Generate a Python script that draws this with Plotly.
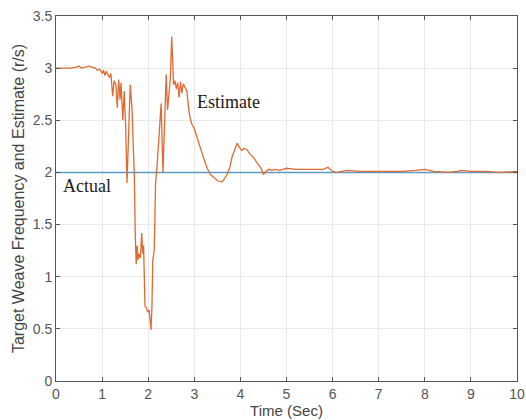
import plotly.graph_objects as go

# ---- data ----
actual_t = [0, 10]
actual_val = [2.0, 2.0]

est_t = [0.0, 0.3, 0.45, 0.5, 0.55, 0.65, 0.72, 0.78, 0.85, 0.9, 0.95, 1.0, 1.03, 1.06, 1.09,
         1.12, 1.16, 1.19, 1.23, 1.26, 1.30, 1.33, 1.36, 1.39, 1.41, 1.45, 1.48, 1.51, 1.54,
         1.57, 1.61, 1.63, 1.65, 1.68, 1.70, 1.72, 1.74, 1.76, 1.78, 1.80, 1.83, 1.86, 1.88,
         1.90, 1.93, 1.96, 1.99, 2.02, 2.04, 2.06, 2.08, 2.10, 2.13, 2.16, 2.19, 2.22, 2.25,
         2.28, 2.30, 2.32, 2.35, 2.39, 2.42, 2.45, 2.48, 2.51, 2.53, 2.55, 2.58, 2.61, 2.64,
         2.67, 2.70, 2.73, 2.76, 2.80, 2.84, 2.88, 2.91, 2.95, 2.99, 3.05, 3.13, 3.20, 3.28,
         3.35, 3.43, 3.50, 3.60, 3.66, 3.72, 3.77, 3.82, 3.88, 3.93, 3.98, 4.03, 4.08, 4.14,
         4.20, 4.29, 4.38, 4.45, 4.50, 4.55, 4.62, 4.68, 4.75, 4.85, 5.0, 5.2, 5.5, 5.8, 5.9,
         6.0, 6.1, 6.3, 6.6, 7.0, 7.5, 7.8, 8.0, 8.2, 8.5, 8.7, 8.8, 9.0, 9.3, 9.6, 10.0]
est_val = [3.00, 3.00, 3.01, 3.02, 3.00, 3.01, 3.02, 3.01, 3.00, 2.98, 2.99, 2.95, 2.98, 2.93, 2.97,
           2.94, 2.91, 2.95, 2.73, 2.88, 2.84, 2.62, 2.89, 2.70, 2.86, 2.50, 2.78, 2.45, 1.90,
           2.30, 2.84, 2.72, 2.60, 2.20, 1.96, 1.40, 1.12, 1.30, 1.16, 1.22, 1.18, 1.42, 1.22,
           1.30, 0.72, 0.70, 0.66, 0.68, 0.60, 0.49, 0.70, 1.16, 1.25, 1.90, 2.05, 2.30, 2.45,
           2.66, 2.20, 2.00, 2.40, 2.94, 2.60, 2.75, 2.90, 3.30, 3.10, 2.84, 2.88, 2.80, 2.86,
           2.72, 2.87, 2.76, 2.85, 2.82, 2.78, 2.60, 2.52, 2.46, 2.43, 2.35, 2.23, 2.14, 2.04,
           1.98, 1.95, 1.92, 1.91, 1.94, 1.99, 2.05, 2.15, 2.22, 2.28, 2.24, 2.21, 2.23, 2.22,
           2.18, 2.14, 2.08, 2.04, 1.98, 2.01, 2.03, 2.02, 2.03, 2.02, 2.04, 2.03, 2.03, 2.03, 2.05,
           2.01, 2.00, 2.02, 2.01, 2.01, 2.01, 2.02, 2.03, 2.01, 2.00, 2.01, 2.02, 2.01, 2.01, 2.00, 2.01]

x_ticks = [0, 1, 2, 3, 4, 5, 6, 7, 8, 9, 10]
y_ticks = [0, 0.5, 1, 1.5, 2, 2.5, 3, 3.5]
y_tick_text = ["0", "0.5", "1", "1.5", "2", "2.5", "3", "3.5"]

fig = go.Figure()
fig.add_trace(go.Scatter(x=actual_t, y=actual_val, mode="lines",
                         line=dict(color="#5a9cc6", width=1.5), showlegend=False))
fig.add_trace(go.Scatter(x=est_t, y=est_val, mode="lines",
                         line=dict(color="#de6a32", width=1.3), showlegend=False))

fig.add_annotation(x=3.02, y=2.68, text="Estimate", showarrow=False, xanchor="left",
                   font=dict(family="Liberation Serif", size=18, color="#1a1a1a"))
fig.add_annotation(x=0.11, y=1.87, text="Actual", showarrow=False, xanchor="left",
                   font=dict(family="Liberation Serif", size=18, color="#1a1a1a"))

axis_common = dict(showgrid=True, gridcolor="#e8e8e8", gridwidth=1,
                   showline=True, linecolor="#555555", linewidth=1, mirror="ticks",
                   ticks="inside", ticklen=4, tickcolor="#555555", zeroline=False,
                   tickfont=dict(family="Liberation Sans", size=14, color="#555555"))

fig.update_xaxes(range=[0, 10], tickvals=x_ticks, automargin=False,
                 title=dict(text="Time (Sec)", standoff=2,
                            font=dict(family="Liberation Sans", size=15, color="#444444")),
                 **axis_common)
fig.update_yaxes(range=[0, 3.5], tickvals=y_ticks, ticktext=y_tick_text, automargin=False,
                 title=dict(text="Target Weave Frequency and Estimate (r/s)", standoff=4,
                            font=dict(family="Liberation Sans", size=16, color="#444444")),
                 **axis_common)

fig.update_layout(width=526, height=420, margin=dict(l=56, r=9, t=16, b=39),
                  plot_bgcolor="white", paper_bgcolor="white")

fig.write_html("out.html")
